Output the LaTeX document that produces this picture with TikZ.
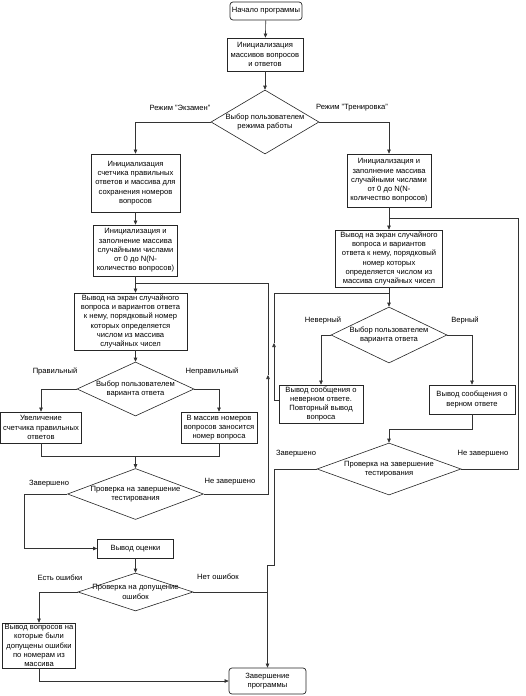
\documentclass[tikz,border=0pt]{standalone}
\usepackage{fontspec}
\setmainfont{Liberation Sans}
\usetikzlibrary{shapes.geometric,arrows.meta}
\newcommand\diagfont{\fontsize{7.6}{9.3}\selectfont}
\begin{document}
\begin{tikzpicture}[x=1pt,y=-1pt,
  box/.style={draw=black!85, line width=0.7pt, fill=white, align=center, inner sep=0pt, font=\diagfont},
  rbox/.style={box, rounded corners=3pt},
  dia/.style={draw=black!85, line width=0.6pt, fill=white, diamond, inner sep=0pt},
  txt/.style={align=center, inner sep=0pt, font=\diagfont},
  lbl/.style={inner sep=0pt, font=\diagfont},
  conn/.style={draw=black!80, line width=0.6pt},
  arr/.style={conn, -{Triangle[length=4pt,width=3.5pt]}}
]
\fill[white] (0,0) rectangle (525,696);
\useasboundingbox (0,0) rectangle (525,696);

% top
\node[rbox, minimum width=72pt, minimum height=18pt] (start) at (266,11) {Начало программы};
\node[box, minimum width=76pt, minimum height=33pt] (init) at (265,54.5) {Инициализация\\массивов вопросов\\и ответов};
\node[dia, minimum width=108pt, minimum height=64pt] (d1) at (265,122) {};
\node[txt] (d1t) at (d1) {Выбор пользователем\\режима работы};
\node[lbl] (l1) at (180,108) {Режим "Экзамен"};
\node[lbl] (l2) at (352,108) {Режим "Тренировка"};

% exam branch
\node[box, minimum width=89pt, minimum height=58pt] (exInit) at (135.5,183) {Инициализация\\счетчика правильных\\ответов и массива для\\сохранения номеров\\вопросов};
\node[box, minimum width=84pt, minimum height=51pt] (exFill) at (135.5,250.5) {Инициализация и\\заполнение массива\\случайными числами\\от 0 до N(N-\\количество вопросов)};
\node[box, minimum width=113pt, minimum height=57pt] (exShow) at (130.5,321.5) {Вывод на экран случайного\\вопроса и вариантов ответа\\к нему, порядковый номер\\которых определяется\\числом из массива\\случайных чисел};
\node[dia, minimum width=117pt, minimum height=54pt] (dAnsL) at (135.5,389) {};
\node[txt] (dAnsLt) at (dAnsL) {Выбор пользователем\\варианта ответа};
\node[lbl] (l3) at (55,371) {Правильный};
\node[lbl] (l4) at (212,371) {Неправильный};
\node[box, minimum width=81pt, minimum height=31pt] (incr) at (41,427.5) {Увеличение\\счетчика правильных\\ответов};
\node[box, minimum width=76pt, minimum height=31pt] (addq) at (219,427.5) {В массив номеров\\вопросов заносится\\номер вопроса};
\node[dia, minimum width=136pt, minimum height=51pt] (dChkL) at (135.5,494) {};
\node[txt] (dChkLt) at (dChkL) {Проверка на завершение\\тестирования};
\node[lbl] (l5) at (49,484) {Завершено};
\node[lbl] (l6) at (230,482) {Не завершено};
\node[box, minimum width=76pt, minimum height=19pt] (grade) at (135.5,548.5) {Вывод оценки};
\node[dia, minimum width=115pt, minimum height=38pt] (dErr) at (135.5,592) {};
\node[txt] (dErrt) at (dErr) {Проверка на допущение\\ошибок};
\node[lbl] (l7) at (60,578) {Есть ошибки};
\node[lbl] (l8) at (218,577) {Нет ошибок};
\node[box, minimum width=73pt, minimum height=45pt] (errBox) at (39,645.5) {Вывод вопросов на\\которые были\\допущены ошибки\\по номерам из\\массива};
\node[rbox, minimum width=77pt, minimum height=26pt] (end) at (267.5,681) {Завершение\\программы};

% training branch
\node[box, minimum width=84pt, minimum height=53pt] (trFill) at (389,180.5) {Инициализация и\\заполнение массива\\случайными числами\\от 0 до N(N-\\количество вопросов)};
\node[box, minimum width=107pt, minimum height=57pt] (trShow) at (389,258.5) {Вывод на экран случайного\\вопроса и вариантов\\ответа к нему, порядковый\\номер которых\\определяется числом из\\массива случайных чисел};
\node[dia, minimum width=116pt, minimum height=56pt] (dAnsR) at (389,335) {};
\node[txt] (dAnsRt) at (dAnsR) {Выбор пользователем\\варианта ответа};
\node[lbl] (l9) at (323,320) {Неверный};
\node[lbl] (l10) at (465,320) {Верный};
\node[box, minimum width=84pt, minimum height=38pt] (wrong) at (321,404) {Вывод сообщения о\\неверном ответе.\\Повторный вывод\\вопроса};
\node[box, minimum width=86pt, minimum height=29pt] (right) at (472,399.5) {Вывод сообщения о\\верном ответе};
\node[dia, minimum width=144pt, minimum height=52pt] (dChkR) at (389,469) {};
\node[txt] (dChkRt) at (dChkR) {Проверка на завершение\\тестирования};
\node[lbl] (l11) at (296,454) {Завершено};
\node[lbl] (l12) at (483,454) {Не завершено};

% coordinates for connectors
\coordinate (jL) at (135.5,283);
\coordinate (loopL1) at (268,494);
\coordinate (loopLm) at (268,375);
\coordinate (loopL2) at (268,283);
\coordinate (mergeL) at (135.5,456);
\coordinate (jR) at (389,218);
\coordinate (loopR1) at (518,469);
\coordinate (loopR2) at (518,218);
\coordinate (jR2) at (389,293);
\coordinate (wl1) at (274,400);
\coordinate (wlm) at (274,343);
\coordinate (wl2) at (274,293);
\coordinate (mergeR) at (389,429.5);
\coordinate (fin1) at (274,469);
\coordinate (fin2) at (274,565);
\coordinate (fin3) at (267.5,565);
\coordinate (noErr) at (267.5,592);
\coordinate (errEnd) at (39,681);

% top connectors
\draw[arr] (start) -- (init);
\draw[arr] (init) -- (d1);
\draw[arr] (d1.west) -| (exInit.north);
\draw[arr] (d1.east) -| (trFill.north);

% exam connectors
\draw[arr] (exInit) -- (exFill);
\draw[arr] (exFill.south) -- (exFill.south |- exShow.north);
\draw[arr] (exShow.south -| dAnsL.north) -- (dAnsL.north);
\draw[arr] (dAnsL.west) -| (incr.north);
\draw[arr] (dAnsL.east) -| (addq.north);
\draw[conn] (incr.south) |- (mergeL);
\draw[conn] (addq.south) |- (mergeL);
\draw[arr] (mergeL) -- (dChkL.north);
\draw[arr] (dChkL.east) -- (loopL1) -- (loopLm);
\draw[conn] (loopLm) -- (loopL2) -- (jL);
\draw[arr] (dChkL.west) -| (24,548.5) -- (grade.west);
\draw[arr] (grade) -- (dErr);
\draw[arr] (dErr.west) -| (errBox.north);
\draw[arr] (errBox.south) -- (errEnd) -- (end.west |- errEnd);

% training connectors
\draw[arr] (trFill) -- (trShow);
\draw[arr] (trShow) -- (dAnsR);
\draw[arr] (dAnsR.west) -| (wrong.north);
\draw[arr] (dAnsR.east) -| (right.north);
\draw[arr] (wrong.west |- wl1) -- (wl1) -- (wlm);
\draw[conn] (wlm) -- (wl2) -- (jR2);
\draw[conn] (right.south) |- (mergeR);
\draw[arr] (mergeR) -- (dChkR.north);
\draw[conn] (dChkR.east) -- (loopR1) -- (loopR2) -- (jR);
\draw[conn] (dChkR.west) -- (fin1) -- (fin2) -- (fin3);
\draw[conn] (dErr.east) -- (noErr);
\draw[arr] (fin3) -- (end.north);
\end{tikzpicture}
\end{document}
